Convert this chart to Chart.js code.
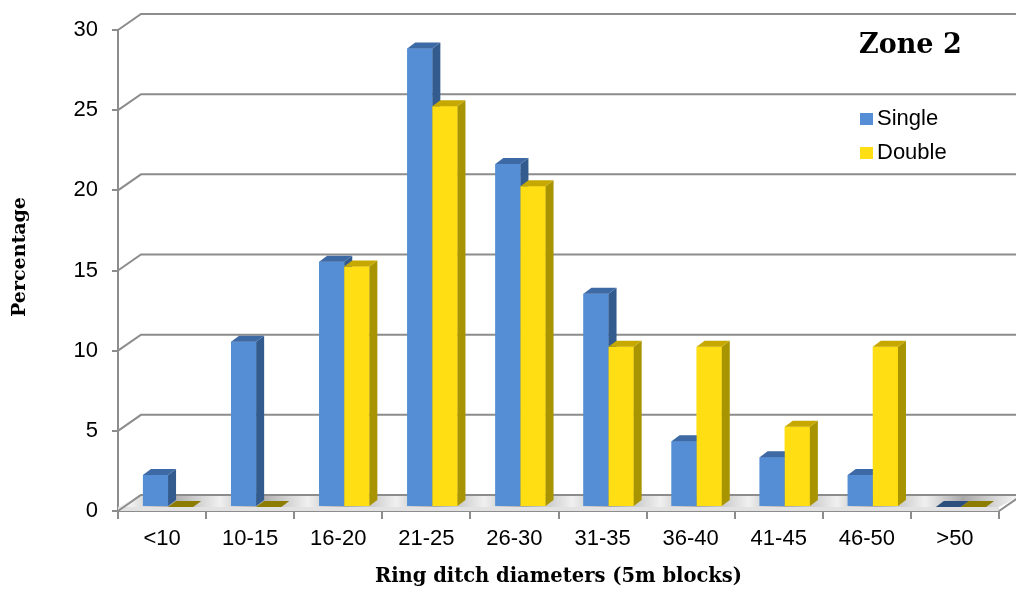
<!DOCTYPE html>
<html>
<head>
<meta charset="utf-8">
<script src="https://cdn.jsdelivr.net/npm/chart.js@4.4.0/dist/chart.umd.min.js"></script>
<style>
  html, body { margin: 0; padding: 0; background: #fff; }
  #wrap { width: 1016px; height: 593px; }
</style>
</head>
<body>
<div id="wrap"><canvas id="chart"></canvas></div>
<script>
const categories = ["<10", "10-15", "16-20", "21-25", "26-30", "31-35", "36-40", "41-45", "46-50", ">50"];
const singleValues = [2.0, 10.3, 15.3, 28.6, 21.4, 13.3, 4.1, 3.1, 2.0, 0];
const doubleValues = [0, 0, 15, 25, 20, 10, 10, 5, 10, 0];
const yTicks = [0, 5, 10, 15, 20, 25, 30];

const seriesNames = ["Single", "Double"];
const frontColors = ["#558ed5", "#ffdf14"];
const sideColors = ["#335b8e", "#a89400"];
const topColors = ["#3d69a5", "#c6a800"];
const flatColors = ["#2c4f7e", "#8c7c00"];

// fake 3d: back wall offset, bar row offset, bar depth
const BACK = { x: 23, y: -16 };
const SHIFT = { x: 6, y: -4 };
const DEPTH = { x: 8, y: -6 };

const frame3d = {
  id: "frame3d",
  beforeDatasetsDraw(chart) {
    const { ctx, chartArea: a, scales: { y } } = chart;
    ctx.save();
    ctx.strokeStyle = "#8c8c8c";
    ctx.lineWidth = 2;
    yTicks.forEach(v => {
      const py = y.getPixelForValue(v);
      ctx.beginPath();
      ctx.moveTo(a.left, py);
      ctx.lineTo(a.left + BACK.x, py + BACK.y);
      if (v > 0) ctx.lineTo(chart.width + 5, py + BACK.y);
      ctx.stroke();
    });

    // floor slab
    const fy = y.getPixelForValue(0);
    const x0 = a.left, x1 = a.right + BACK.x;
    const grad = ctx.createLinearGradient(x0, fy, x1, fy + BACK.y);
    const step = (a.right - a.left) / categories.length;
    for (let i = 0; i <= categories.length; i++) {
      const edge = (a.left + i * step + 14 - x0) / (x1 - x0);
      const mid = (a.left + (i + 0.5) * step + 8 - x0) / (x1 - x0);
      if (edge >= 0 && edge <= 1) grad.addColorStop(edge, "#f0f0f0");
      if (mid >= 0 && mid <= 1) grad.addColorStop(mid, "#a9a9a9");
    }
    ctx.fillStyle = "#e2e2e2";
    ctx.fillRect(a.left, fy - 4, a.right - a.left, 4);
    ctx.fillStyle = grad;
    ctx.beginPath();
    ctx.moveTo(a.left, fy - 4);
    ctx.lineTo(a.right, fy - 4);
    ctx.lineTo(a.right + BACK.x, fy + BACK.y);
    ctx.lineTo(a.left + BACK.x, fy + BACK.y);
    ctx.closePath();
    ctx.fill();
    ctx.beginPath();
    ctx.moveTo(a.left, fy);
    ctx.lineTo(a.left + BACK.x, fy + BACK.y);
    ctx.lineTo(a.right + BACK.x, fy + BACK.y);
    ctx.lineTo(a.right, fy);
    ctx.stroke();
    ctx.restore();

    ctx.save();
    ctx.translate(SHIFT.x, SHIFT.y);
  },
  afterDatasetsDraw(chart) {
    const ctx = chart.ctx;
    chart.data.datasets.forEach((ds, di) => {
      chart.getDatasetMeta(di).data.forEach(bar => {
        const { x, y, base, width } = bar.getProps(["x", "y", "base", "width"], true);
        const l = x - width / 2, r = x + width / 2;
        bar.draw(ctx);
        ctx.fillStyle = sideColors[di];
        ctx.beginPath();
        ctx.moveTo(r, y);
        ctx.lineTo(r + DEPTH.x, y + DEPTH.y);
        ctx.lineTo(r + DEPTH.x, base + DEPTH.y);
        ctx.lineTo(r, base);
        ctx.closePath();
        ctx.fill();
        ctx.fillStyle = Math.abs(base - y) < 1 ? flatColors[di] : topColors[di];
        ctx.beginPath();
        ctx.moveTo(l, y);
        ctx.lineTo(r, y);
        ctx.lineTo(r + DEPTH.x, y + DEPTH.y);
        ctx.lineTo(l + DEPTH.x, y + DEPTH.y);
        ctx.closePath();
        ctx.fill();
      });
    });
    ctx.restore();
  },
  afterDraw(chart) {
    const ctx = chart.ctx;
    ctx.save();
    ctx.fillStyle = "#000";
    ctx.textBaseline = "alphabetic";
    ctx.font = "bold 27px 'DejaVu Serif'";
    ctx.fillText("Zone 2", 859, 53);
    ctx.font = "22px 'Liberation Sans'";
    ctx.textBaseline = "middle";
    seriesNames.forEach((name, i) => {
      const cy = 119 + i * 34;
      ctx.fillStyle = frontColors[i];
      ctx.fillRect(860, cy - 6, 13, 12);
      ctx.fillStyle = "#000";
      ctx.fillText(name, 877, cy);
    });
    // y axis title
    ctx.translate(20, 257);
    ctx.rotate(-Math.PI / 2);
    ctx.textAlign = "center";
    ctx.font = "bold 19px 'DejaVu Serif'";
    ctx.fillText("Percentage", 0, 0);
    ctx.restore();
  }
};

new Chart(document.getElementById("chart"), {
  type: "bar",
  data: {
    labels: categories,
    datasets: [
      { label: seriesNames[0], data: singleValues, backgroundColor: frontColors[0] },
      { label: seriesNames[1], data: doubleValues, backgroundColor: frontColors[1] }
    ]
  },
  options: {
    responsive: true,
    maintainAspectRatio: false,
    animation: false,
    categoryPercentage: 0.57,
    barPercentage: 1,
    layout: { padding: { top: 30, right: 17, left: 0, bottom: 0 } },
    plugins: { legend: { display: false }, tooltip: { enabled: false } },
    scales: {
      x: {
        afterFit: s => { s.height = 82; },
        grid: { drawOnChartArea: false, drawTicks: true, tickLength: 8, color: "#8c8c8c", lineWidth: 2 },
        border: { display: true, color: "#8c8c8c", width: 2 },
        ticks: { color: "#000", font: { family: "Liberation Sans", size: 22 }, padding: 7, maxRotation: 0 },
        title: {
          display: true, text: "Ring ditch diameters (5m blocks)", color: "#000",
          font: { family: "DejaVu Serif", size: 19.5, weight: "bold" }, padding: { top: 0, bottom: 4 }
        }
      },
      y: {
        min: 0, max: 30,
        afterFit: s => { s.width = 118; },
        grid: { drawOnChartArea: false, drawTicks: true, tickLength: 6, color: "#8c8c8c", lineWidth: 2 },
        border: { display: true, color: "#8c8c8c", width: 2 },
        ticks: { stepSize: 5, color: "#000", font: { family: "Liberation Sans", size: 22 }, padding: 14 }
      }
    }
  },
  plugins: [frame3d]
});
</script>
</body>
</html>
